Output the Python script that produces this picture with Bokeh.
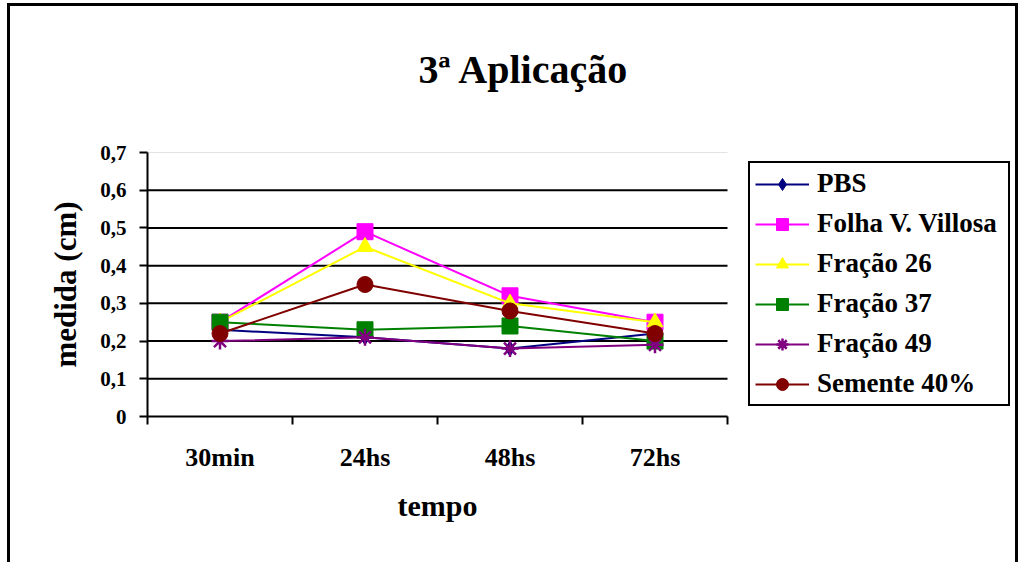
from bokeh.plotting import figure
from bokeh.models import (Range1d, FixedTicker, CustomJSTickFormatter, Legend, LegendItem, Title)
from bokeh.embed import file_html
from bokeh.resources import INLINE

categories = ["30min", "24hs", "48hs", "72hs"]
series_names = ["PBS", "Folha V. Villosa", "Fração 26", "Fração 37", "Fração 49", "Semente 40%"]
pbs = [0.23, 0.21, 0.18, 0.22]
folha = [0.25, 0.49, 0.32, 0.25]
fracao26 = [0.25, 0.45, 0.30, 0.25]
fracao37 = [0.25, 0.23, 0.24, 0.20]
fracao49 = [0.20, 0.21, 0.18, 0.19]
semente = [0.22, 0.35, 0.28, 0.22]
y_ticks = [0, 0.1, 0.2, 0.3, 0.4, 0.5, 0.6, 0.7]

values = [pbs, folha, fracao26, fracao37, fracao49, semente]
colors = ["#000080", "#FF00FF", "#FFFF00", "#008000", "#800080", "#800000"]
markers = ["diamond", "square", "triangle", "square", "asterisk", "circle"]
msizes = [15, 16, 16, 16, 17, 16]

FONT = "Liberation Serif"

# layout (pixels)
W, H = 1011, 559
B_LEFT, B_RIGHT, B_TOP, B_BOTTOM = 137, 11, 146, 149
PLOT_PX = 580                      # width of the axes area that holds the categories
FRAME_PX = W - B_LEFT - B_RIGHT    # frame extends to hold the legend too
n = len(categories)
x_end = n * FRAME_PX / PLOT_PX

p = figure(width=W, height=H, output_backend="svg", toolbar_location=None,
           x_range=Range1d(0, x_end), y_range=Range1d(0, y_ticks[-1]),
           min_border_left=B_LEFT, min_border_right=B_RIGHT, min_border_top=B_TOP,
           min_border_bottom=B_BOTTOM)
p.styles = {"border-left": "3px solid black", "border-top": "3px solid black",
            "border-right": "3px solid black", "margin-top": "3px", "margin-left": "7px"}
p.outline_line_color = None
p.background_fill_color = "white"
p.border_fill_color = "white"

p.title.text = "3ª Aplicação"
p.title.text_font = FONT
p.title.text_font_style = "bold"
p.title.text_font_size = "40px"
p.title.text_color = "black"
p.title.align = "left"
p.title.offset = 271
p.title.standoff = 0

# empty spacer between the title and the plot area
spacer = Title(text=" ", text_font_size="1px", standoff=58)
p.add_layout(spacer, "above")

xs = [i + 0.5 for i in range(n)]

# x axis
xa = p.xaxis[0]
xa.bounds = (0, n)
xa.ticker = FixedTicker(ticks=xs, minor_ticks=list(range(n + 1)))
xa.major_label_overrides = {x: c for x, c in zip(xs, categories)}
xa.major_tick_line_color = None
xa.major_tick_out = 8
xa.major_tick_in = 0
xa.minor_tick_line_color = "black"
xa.minor_tick_line_width = 2
xa.minor_tick_out = 8
xa.minor_tick_in = 0
xa.axis_line_width = 2
xa.axis_line_color = "black"
xa.major_label_text_font = FONT
xa.major_label_text_font_style = "bold"
xa.major_label_text_font_size = "26px"
xa.major_label_text_color = "black"
xa.major_label_standoff = 18

# x axis title, centred under the category area
xtitle = Title(text="tempo", align="left", offset=250, standoff=24,
               text_font=FONT, text_font_style="bold", text_font_size="30px",
               text_color="black")
p.add_layout(xtitle, "below")

# y axis
ya = p.yaxis[0]
ya.ticker = FixedTicker(ticks=y_ticks)
ya.formatter = CustomJSTickFormatter(code="""
const s = tick.toFixed(1).replace('.', ',');
return s === '0,0' ? '0' : s;
""")
ya.major_tick_line_width = 2
ya.major_tick_out = 8
ya.major_tick_in = 0
ya.minor_tick_line_color = None
ya.axis_line_width = 2
ya.axis_line_color = "black"
ya.major_label_text_font = FONT
ya.major_label_text_font_style = "bold"
ya.major_label_text_font_size = "21px"
ya.major_label_text_color = "black"
ya.major_label_standoff = 13
ya.axis_label = "medida (cm)"
ya.axis_label_text_font = FONT
ya.axis_label_text_font_style = "bold"
ya.axis_label_text_font_size = "31px"
ya.axis_label_text_color = "black"
ya.axis_label_standoff = 14

# horizontal grid lines limited to the category area
p.xgrid.grid_line_color = None
p.ygrid.grid_line_color = None
grid_y = y_ticks[1:-1]
p.segment(x0=[0] * len(grid_y), y0=grid_y, x1=[n] * len(grid_y), y1=grid_y,
          line_color="black", line_width=2)
p.segment(x0=[0], y0=[y_ticks[-1]], x1=[n], y1=[y_ticks[-1]],
          line_color="#c8c8c8", line_width=1)

items = []
for name, vals, col, mk, ms in zip(series_names, values, colors, markers, msizes):
    r1 = p.line(xs, vals, line_color=col, line_width=2)
    r2 = p.scatter(xs, vals, marker=mk, size=ms, fill_color=col, line_color=col,
                   line_width=2.5 if mk == "asterisk" else 1)
    items.append(LegendItem(label=name, renderers=[r1, r2]))

legend = Legend(items=items, location=(601, 10))
legend.border_line_color = "black"
legend.border_line_alpha = 1.0
legend.border_line_width = 2
legend.background_fill_color = "white"
legend.label_text_font = FONT
legend.label_text_font_style = "bold"
legend.label_text_font_size = "27px"
legend.label_text_color = "black"
legend.glyph_width = 54
legend.glyph_height = 30
legend.label_height = 30
legend.label_width = 186
legend.spacing = 9
legend.padding = 5
legend.margin = 0
legend.label_standoff = 8
p.add_layout(legend, "center")

open("out.html", "w").write(file_html(p, INLINE))
